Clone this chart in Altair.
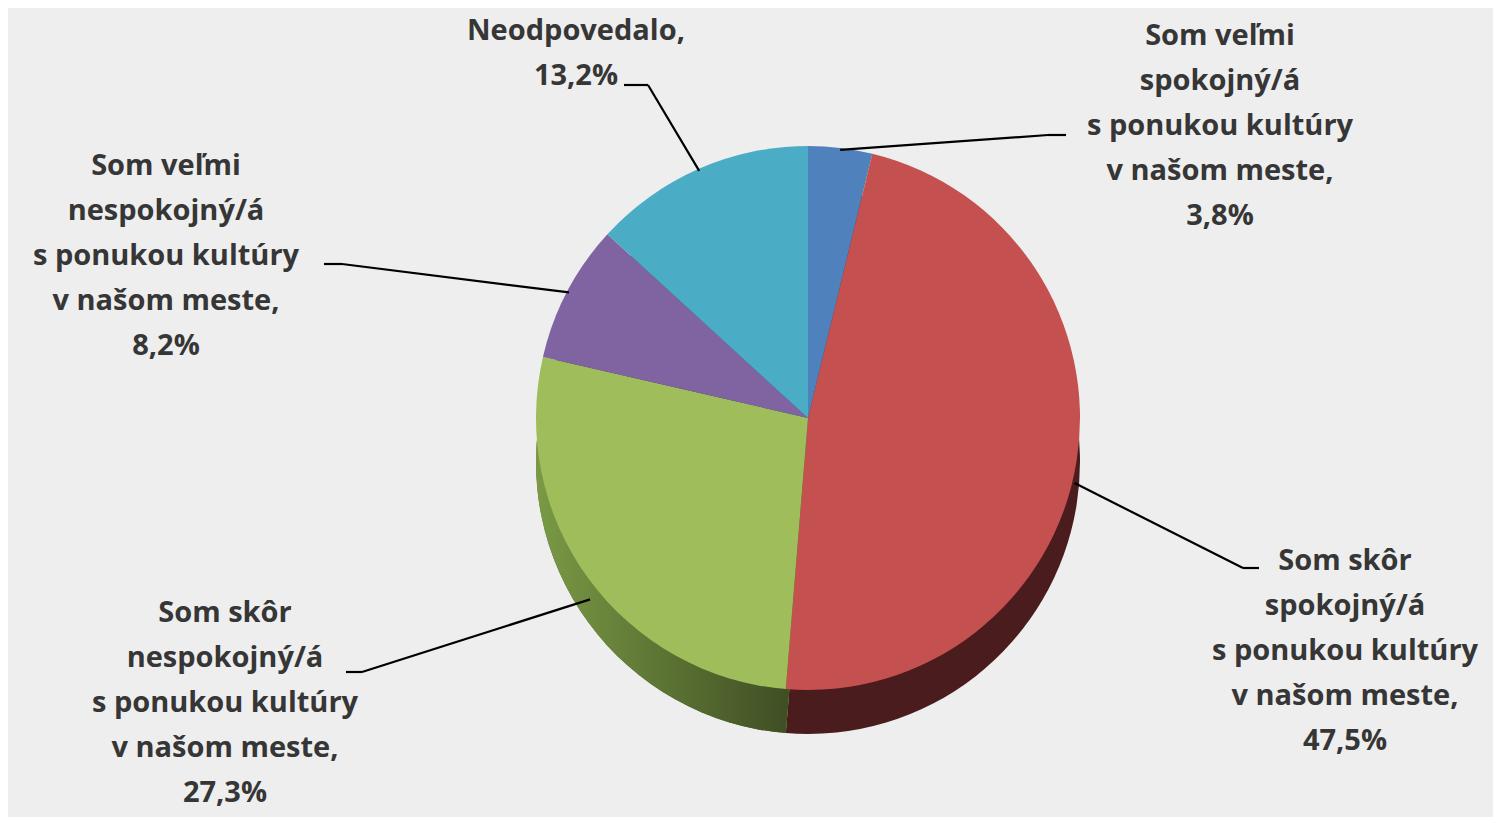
import math
import altair as alt
import pandas as pd

# ---- data ----
categories = [
    "Som veľmi spokojný/á s ponukou kultúry v našom meste",
    "Som skôr spokojný/á s ponukou kultúry v našom meste",
    "Som skôr nespokojný/á s ponukou kultúry v našom meste",
    "Som veľmi nespokojný/á s ponukou kultúry v našom meste",
    "Neodpovedalo",
]
values = [3.8, 47.5, 27.3, 8.2, 13.2]
label_lines = [
    ["Som veľmi", "spokojný/á", "s ponukou  kultúry", "v našom  meste,"],
    ["Som skôr", "spokojný/á", "s ponukou  kultúry", "v našom  meste,"],
    ["Som skôr", "nespokojný/á", "s ponukou  kultúry", "v našom  meste,"],
    ["Som veľmi", "nespokojný/á", "s ponukou  kultúry", "v našom  meste,"],
    ["Neodpovedalo,"],
]

# ---- styles ----
top_colors = ["#4F81BD", "#C4504F", "#9FBE5B", "#8064A2", "#4BACC6"]
side_colors = ["#2A4566", "#4A1C1E", "#55702E", "#443558", "#276070"]
BG = "#EEEEEE"
TXT = "#363636"

# ---- layout (chart pixel coordinates) ----
CX, CY = 800, 410
R = 272
DEPTH = 44
label_x = [1212, 1337, 217, 158, 568]
label_y = [37, 562, 614, 167, 32]
anchor_x = [1040, 1235, 354, 334, 640]
anchor_y = [127, 560, 664, 256, 77]
elbow = [18, 16, -16, -18, -24]

df = pd.DataFrame({
    "idx": list(range(len(categories))),
    "cat": categories,
    "value": values,
    "label": ["\n".join(lines + [f"{v:.1f}".replace(".", ",") + "%"])
              for lines, v in zip(label_lines, values)],
    "lx": label_x, "ly": label_y,
    "ax": anchor_x, "ay": anchor_y, "el": elbow,
})

base = alt.Chart(df).transform_joinaggregate(
    total="sum(value)"
).transform_window(
    cum="sum(value)", sort=[alt.SortField("idx", order="ascending")], frame=[None, 0]
).transform_calculate(
    f0="(datum.cum - datum.value) / datum.total",
    f1="datum.cum / datum.total",
    mid="2 * PI * (datum.cum - datum.value / 2) / datum.total",
)

theta_scale = alt.Scale(domain=[0, 1], range=[0, 2 * math.pi])

side = base.mark_arc(radius=R, strokeWidth=0).encode(
    theta=alt.Theta("f0:Q", scale=theta_scale),
    theta2="f1:Q",
    color=alt.Color("cat:N", scale=alt.Scale(domain=categories, range=side_colors), legend=None),
    x=alt.value(CX), y=alt.value(CY + DEPTH),
)

green_side = base.transform_filter("datum.idx == 2").mark_arc(
    radius=R, strokeWidth=0,
    fill=alt.Gradient(
        gradient="linear", x1=0, x2=1, y1=0, y2=0,
        stops=[alt.GradientStop(color="#7A9A45", offset=0),
               alt.GradientStop(color="#3B4821", offset=1)],
    ),
).encode(
    theta=alt.Theta("f0:Q", scale=theta_scale),
    theta2="f1:Q",
    x=alt.value(CX), y=alt.value(CY + DEPTH),
)

top = base.mark_arc(radius=R, strokeWidth=0).encode(
    theta=alt.Theta("f0:Q", scale=theta_scale),
    theta2="f1:Q",
    color=alt.Color("cat:N", scale=alt.Scale(domain=categories, range=top_colors), legend=None),
    x=alt.value(CX), y=alt.value(CY),
)

lines = base.transform_calculate(
    sx=f"{CX} + {R - 2} * sin(datum.mid)",
    sy=f"{CY} - {R - 2} * cos(datum.mid) + (cos(datum.mid) < 0 ? {DEPTH} * 0.5 : 0)",
).mark_rule(color="#000000", strokeWidth=2.2).encode(
    x=alt.X("sx:Q", scale=None, axis=None),
    y=alt.Y("sy:Q", scale=None, axis=None),
    x2="ax:Q", y2="ay:Q",
)

elbows = base.transform_calculate(
    ex="datum.ax + datum.el",
).mark_rule(color="#000000", strokeWidth=2.2).encode(
    x=alt.X("ax:Q", scale=None, axis=None),
    x2="ex:Q",
    y=alt.Y("ay:Q", scale=None, axis=None),
)

labels = base.mark_text(
    align="center", baseline="alphabetic", lineBreak="\n", lineHeight=45,
    font="Open Sans", fontSize=29, fontWeight="bold", color=TXT,
).encode(
    x=alt.X("lx:Q", scale=None, axis=None),
    y=alt.Y("ly:Q", scale=None, axis=None),
    text="label:N",
)

chart = alt.layer(side, green_side, top, lines, elbows, labels).resolve_scale(
    color="independent"
).properties(
    width=1485, height=809, padding=0, autosize="none", background=BG,
).configure_view(stroke=None)

chart.save("out.html", embed_options={"renderer": "svg", "actions": False})
